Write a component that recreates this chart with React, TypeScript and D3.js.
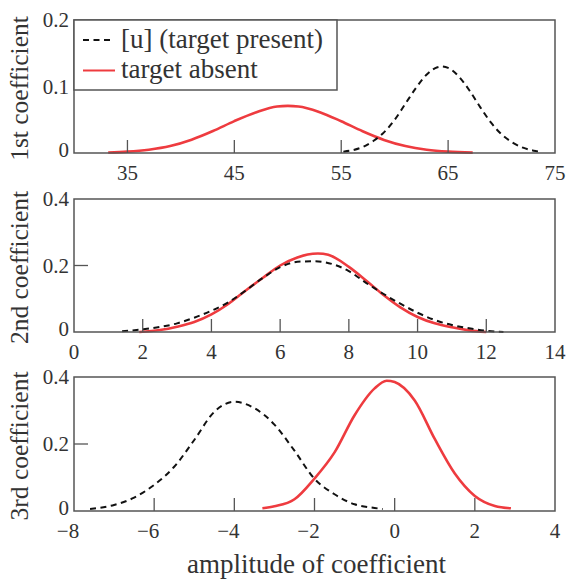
import React, { useRef, useEffect } from 'react';
import * as d3 from 'd3';

const W = 567;
const H = 581;

// 1st coefficient: [amplitude, density]
const firstPresent = [
  [55.2, 0.002], [56, 0.004], [57, 0.009], [58, 0.018], [59, 0.031], [60, 0.05],
  [61, 0.074], [62, 0.098], [63, 0.118], [64, 0.129], [64.4, 0.13], [65, 0.128],
  [66, 0.115], [67, 0.094], [68, 0.069], [69, 0.046], [70, 0.028], [71, 0.016],
  [72, 0.008], [73, 0.0035], [73.6, 0.002],
];
const firstAbsent = [
  [33.2, 0.0007], [35, 0.002], [37, 0.005], [39, 0.0105], [41, 0.02], [43, 0.033],
  [45, 0.048], [47, 0.061], [49, 0.07], [50, 0.0708], [51, 0.07], [53, 0.0614],
  [55, 0.0477], [57, 0.0327], [59, 0.0197], [61, 0.0105], [63, 0.0049], [65, 0.002],
  [67.3, 0.0006],
];

// 2nd coefficient
const secondPresent = [
  [1.4, 0.002], [2, 0.008], [2.5, 0.015], [3, 0.026], [3.5, 0.043], [4, 0.064],
  [4.5, 0.09], [5, 0.125], [5.5, 0.163], [6, 0.195], [6.5, 0.211], [7, 0.213],
  [7.5, 0.205], [8, 0.183], [8.5, 0.148], [9, 0.115], [9.5, 0.085], [10, 0.058],
  [10.5, 0.036], [11, 0.021], [11.5, 0.011], [12, 0.004], [12.5, 0],
];
const secondAbsent = [
  [1.9, 0], [2.5, 0.006], [3, 0.016], [3.5, 0.03], [4, 0.053], [4.5, 0.085],
  [5, 0.125], [5.5, 0.163], [6, 0.2], [6.5, 0.224], [6.8, 0.233], [7.1, 0.236],
  [7.4, 0.232], [8, 0.196], [8.5, 0.155], [9, 0.112], [9.5, 0.074], [10, 0.045],
  [10.5, 0.026], [11, 0.014], [11.5, 0.005], [12, 0],
];

// 3rd coefficient
const thirdPresent = [
  [-7.6, 0.006], [-7, 0.018], [-6.5, 0.04], [-6, 0.078], [-5.5, 0.132], [-5, 0.212],
  [-4.5, 0.296], [-4, 0.326], [-3.5, 0.307], [-3, 0.258], [-2.5, 0.18], [-2, 0.096],
  [-1.5, 0.05], [-1, 0.02], [-0.5, 0.009], [-0.3, 0.006],
];
const thirdAbsent = [
  [-3.3, 0.008], [-3, 0.014], [-2.5, 0.035], [-2, 0.097], [-1.5, 0.175], [-1, 0.286],
  [-0.5, 0.366], [-0.2, 0.389], [0, 0.385], [0.5, 0.33], [1, 0.215], [1.5, 0.112],
  [2, 0.045], [2.5, 0.015], [2.9, 0.008],
];

const yTitles = ['1st coefficient', '2nd coefficient', '3rd coefficient'];
const xDomains = [[30, 75], [0, 14], [-8, 4]];
const yDomains = [[0, 0.2], [0, 0.4], [0, 0.4]];
const xLabels = [[35, 45, 55, 65, 75], [0, 2, 4, 6, 8, 10, 12, 14], [-8, -6, -4, -2, 0, 2, 4]];
const xInnerTicks = [[35, 45, 55, 65], [2, 4, 6, 8, 10, 12], [-6, -4, -2, 0, 2]];
const yLabels = [[0, 0.1, 0.2], [0, 0.2, 0.4], [0, 0.2, 0.4]];
const yInnerTicks = [[0.1], [0.2], [0.2]];
const presentSeries = [firstPresent, secondPresent, thirdPresent];
const absentSeries = [firstAbsent, secondAbsent, thirdAbsent];
const legendLabels = ['[u] (target present)', 'target absent'];

const FONT = "'Liberation Serif', 'Times New Roman', 'DejaVu Serif', serif";
const RED = '#ee3b3f';
const FRAME = '#555';
const TEXT = '#333';

// panel frames (top, bottom) in pixels
const left = 74;
const right = 555;
const frames = [[20, 153], [199, 332], [377, 511]];

const fmtX = v => (v < 0 ? '\u2212' + Math.abs(v) : String(v));

const Chart = () => {
  const svgRef = useRef(null);

  useEffect(() => {
    const svg = d3.select(svgRef.current);
    svg.selectAll('*').remove();

    frames.forEach(([top, bottom], i) => {
      const g = svg.append('g');
      const x = d3.scaleLinear().domain(xDomains[i]).range([left, right]);
      const y = d3.scaleLinear().domain(yDomains[i]).range([bottom, top]);

      const line = d3.line()
        .x(d => x(d[0]))
        .y(d => y(d[1]))
        .curve(d3.curveMonotoneX);

      g.append('path')
        .attr('d', line(absentSeries[i]))
        .attr('fill', 'none')
        .attr('stroke', RED)
        .attr('stroke-width', 2.6);

      g.append('path')
        .attr('d', line(presentSeries[i]))
        .attr('fill', 'none')
        .attr('stroke', '#111')
        .attr('stroke-width', 2)
        .attr('stroke-dasharray', '6,4.5');

      // inward ticks
      g.selectAll('.xt')
        .data(xInnerTicks[i])
        .enter()
        .append('line')
        .attr('x1', d => x(d)).attr('x2', d => x(d))
        .attr('y1', bottom).attr('y2', bottom - 13)
        .attr('stroke', FRAME).attr('stroke-width', 1.3);

      g.selectAll('.yt')
        .data(yInnerTicks[i])
        .enter()
        .append('line')
        .attr('x1', left).attr('x2', left + 14)
        .attr('y1', d => y(d)).attr('y2', d => y(d))
        .attr('stroke', FRAME).attr('stroke-width', 1.3);

      g.append('rect')
        .attr('x', left).attr('y', top)
        .attr('width', right - left).attr('height', bottom - top)
        .attr('fill', 'none')
        .attr('stroke', FRAME)
        .attr('stroke-width', 1.5);

      g.selectAll('.xl')
        .data(xLabels[i])
        .enter()
        .append('text')
        .attr('x', d => x(d) + (d < 0 ? -6 : 0))
        .attr('y', bottom + 27)
        .attr('text-anchor', 'middle')
        .style('font-family', FONT)
        .style('font-size', '21px')
        .attr('fill', TEXT)
        .text(fmtX);

      g.selectAll('.yl')
        .data(yLabels[i])
        .enter()
        .append('text')
        .attr('x', 69)
        .attr('y', d => y(d))
        .attr('dy', d => (d === 0 ? '0.18em' : '0.35em'))
        .attr('text-anchor', 'end')
        .style('font-family', FONT)
        .style('font-size', '21px')
        .attr('fill', TEXT)
        .text(d => String(d));

      g.append('text')
        .attr('transform', `translate(28,${(top + bottom) / 2 + 2}) rotate(-90)`)
        .attr('text-anchor', 'middle')
        .style('font-family', FONT)
        .style('font-size', '25.5px')
        .attr('fill', TEXT)
        .text(yTitles[i]);

      if (i === 0) {
        const lg = g.append('g');
        lg.append('rect')
          .attr('x', left).attr('y', top)
          .attr('width', 263).attr('height', 70)
          .attr('fill', 'white')
          .attr('stroke', FRAME)
          .attr('stroke-width', 1.5);
        lg.append('line')
          .attr('x1', 83).attr('x2', 112).attr('y1', 40).attr('y2', 40)
          .attr('stroke', '#111').attr('stroke-width', 2).attr('stroke-dasharray', '6,4.5');
        lg.append('line')
          .attr('x1', 83).attr('x2', 115).attr('y1', 70.5).attr('y2', 70.5)
          .attr('stroke', RED).attr('stroke-width', 2);
        lg.selectAll('text')
          .data(legendLabels)
          .enter()
          .append('text')
          .attr('x', 121)
          .attr('y', (d, k) => 48 + k * 30)
          .style('font-family', FONT)
          .style('font-size', '27px')
          .attr('fill', TEXT)
          .text(d => d);
      }
    });

    svg.append('text')
      .attr('x', (left + right) / 2 + 2)
      .attr('y', 573)
      .attr('text-anchor', 'middle')
      .style('font-family', FONT)
      .style('font-size', '27px')
      .attr('fill', TEXT)
      .text('amplitude of coefficient');
  }, []);

  return (
    <svg
      ref={svgRef}
      width={W}
      height={H}
      style={{ position: 'absolute', left: 0, top: 0, background: 'white' }}
    />
  );
};

export default function App() {
  return <Chart />;
}
